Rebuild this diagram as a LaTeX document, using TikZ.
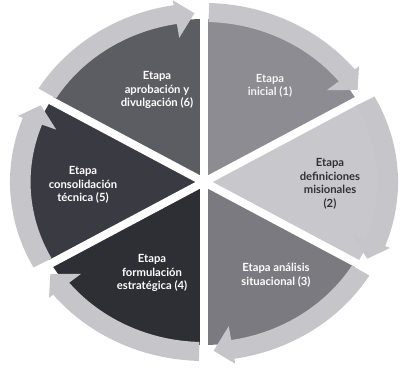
\documentclass[tikz,border=0pt]{standalone}
\usepackage{fontspec}
\setmainfont{Lato}
\usetikzlibrary{positioning,calc}
\definecolor{segA}{HTML}{8C8C92}
\definecolor{segB}{HTML}{C8C8CC}
\definecolor{segC}{HTML}{7A7A80}
\definecolor{segD}{HTML}{2E2E35}
\definecolor{segE}{HTML}{3A3A42}
\definecolor{segF}{HTML}{5C5C63}
\definecolor{ringgray}{HTML}{C6C6CA}
\definecolor{darktxt}{HTML}{303036}
\tikzset{
  seglbl/.style={align=center,font=\bfseries\fontsize{8}{9.7}\selectfont,
    text=white,inner sep=1pt},
  segcut/.style={white,line width=5.7pt},
  cycarrow/.style={fill=ringgray},
}

\begin{document}
\begin{tikzpicture}[x=0.025cm,y=0.025cm]
  \useasboundingbox (0,0) rectangle (402,372);
  % ---- wedges, cuts and ring arrows ----
  \begin{scope}[shift={(204,190)},xscale=1.084]
    \coordinate (ctr) at (0,0);
    \foreach \s/\e/\c in {90/30/segA,30/-30/segB,-30/-90/segC,
                          -90/-150/segD,210/150/segE,150/90/segF}
      \fill[\c] (ctr) -- (\s:163) arc[start angle=\s,end angle=\e,radius=163] -- cycle;
    \foreach \a in {90,30,-30,-90,-150,150}
      \draw[segcut] (ctr) -- (\a:186);
    \foreach \s/\e in {90/30,30/-30,-30/-90,-90/-150,210/150,150/90}
      \fill[cycarrow] ({\s-1.5}:179) arc[start angle=\s-1.5,end angle=\e+9,radius=179]
        -- ({\e+9}:184) -- ({\e+3}:169) -- ({\e+9}:146) -- ({\e+9}:160)
        arc[start angle=\e+9,end angle=\s-1.5,radius=160] -- cycle;
  \end{scope}
  % ---- labels ----
  \node[seglbl,text=white!90!segA] (lbl1) at (270,286) {Etapa\\inicial (1)};
  \node[seglbl,text=darktxt] (lbl2) at (330,188) {Etapa\\definiciones\\misionales\\(2)};
  \node[seglbl] (lbl3) at (276,97) {Etapa análisis\\situacional (3)};
  \node[seglbl] (lbl4) at (152,99) {Etapa\\formulación\\estratégica (4)};
  \node[seglbl] (lbl5) at (83,187) {Etapa\\consolidación\\técnica (5)};
  \node[seglbl] (lbl6) at (157,282) {Etapa\\aprobación y\\divulgación (6)};
\end{tikzpicture}
\end{document}
